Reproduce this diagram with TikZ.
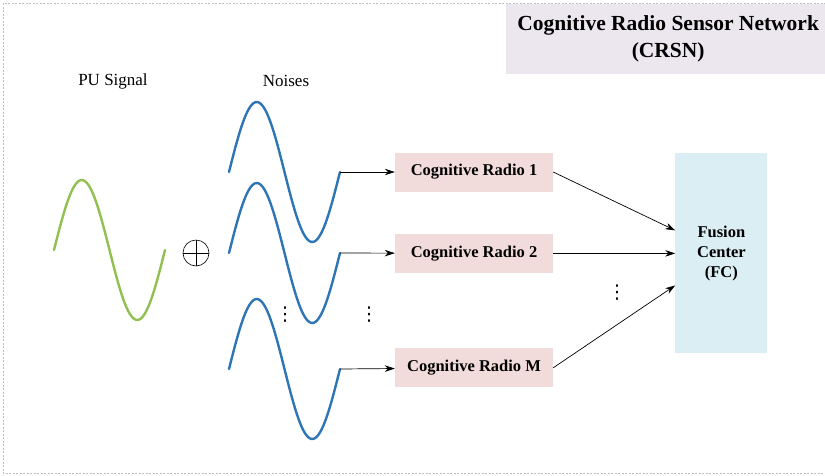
\documentclass[tikz,border=0pt]{standalone}
\usepackage{fontspec}
\setmainfont{Liberation Serif}
\newfontfamily\dotsfont{DejaVu Sans}
\usepackage{xcolor}
\usetikzlibrary{arrows.meta,positioning}

\definecolor{crpink}{HTML}{F2DCDB}
\definecolor{fcblue}{HTML}{DAEEF3}
\definecolor{titlelilac}{HTML}{ECE7EF}
\definecolor{puGreen}{HTML}{92C050}
\definecolor{noiseBlue}{HTML}{2E75B6}

\begin{document}
\begin{tikzpicture}[x=1pt,y=-1pt,>={Stealth[length=10pt,width=6.5pt]},
  lbl/.style={font=\fontsize{17}{20}\selectfont},
  vdotsmark/.style={inner sep=0pt,font=\dotsfont\fontsize{19}{20}\selectfont},
  radio/.style={fill=crpink,minimum width=158pt,minimum height=39pt,inner sep=0pt,font=\fontsize{16.5}{20}\selectfont\bfseries},
  wave/.style={line width=2.4pt,line cap=round},
  link/.style={->,line width=0.7pt}]
\useasboundingbox (0,0) rectangle (825,475);
\draw[gray!50,dash pattern=on 2pt off 1.5pt] (3,3) rectangle (830,473);
\node[fill=titlelilac,anchor=north west,minimum width=324pt,minimum height=70pt,align=center,font=\fontsize{21.5}{27}\selectfont\bfseries] (crsn) at (506,4) {Cognitive Radio Sensor Network\\(CRSN)};
\node[lbl] (pu) at (113,81) {PU Signal};
\node[lbl] (noises) at (286,81) {Noises};
% primary user signal and the adder
\draw[wave,puGreen] plot[domain=0:360,samples=73] ({54+\x/360*111},{250-70*sin(\x)});
\node[circle,draw,minimum size=26pt,inner sep=0pt,line width=0.6pt] (sum) at (196,253) {};
\draw[line width=0.6pt] (sum.north)--(sum.south) (sum.west)--(sum.east);
% noises
\foreach \yc/\nm in {172/n1,253/n2,369/nM}{
  \draw[wave,noiseBlue] plot[domain=0:360,samples=73] ({229+\x/360*111},{\yc-70*sin(\x)});
  \coordinate (\nm) at (340,\yc);
}
\node[vdotsmark] (dotsA) at (285,315) {⋮};
\node[vdotsmark] (dotsB) at (369,315) {⋮};
% cognitive radios and fusion center
\node[radio] (cr1) at (474,172) {Cognitive Radio 1};
\node[radio,below=42pt of cr1] (cr2) {Cognitive Radio 2};
\node[radio,below=75pt of cr2] (crM) {Cognitive Radio M};
\node[fill=fcblue,right=122pt of cr2,minimum width=92pt,minimum height=200pt,align=center,font=\fontsize{16.5}{20}\selectfont\bfseries] (fc) {Fusion\\Center\\(FC)};
\node[vdotsmark] (dotsC) at (617,293) {⋮};
\draw[link] (n1)--(cr1);
\draw[link] (n2)--(cr2);
\draw[link] (nM)--(crM);
\draw[link] (cr1.east)--([yshift=23pt]fc.west);
\draw[link] (cr2.east)--(fc.west);
\draw[link] (crM.east)--([yshift=-32pt]fc.west);
\end{tikzpicture}
\end{document}
